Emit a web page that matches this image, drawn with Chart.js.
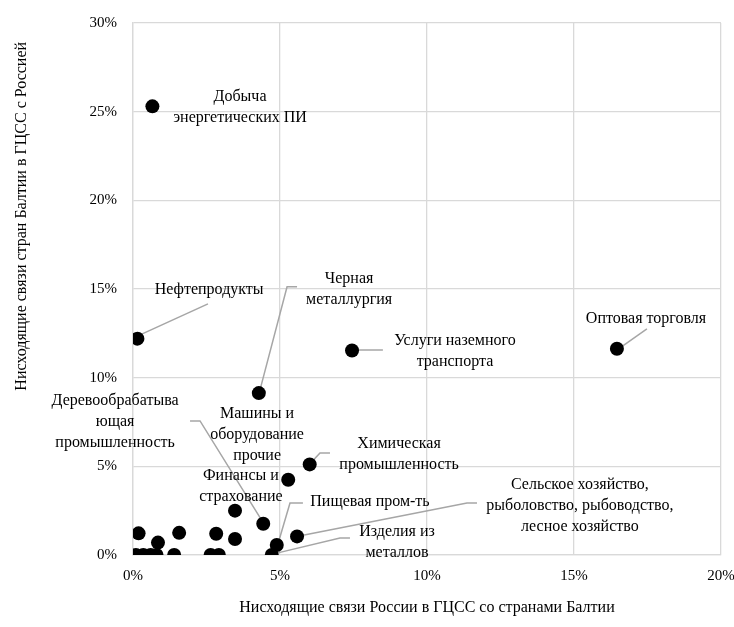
<!DOCTYPE html>
<html lang="ru">
<head>
<meta charset="utf-8">
<title>ГЦСС: Россия и страны Балтии</title>
<script src="https://cdn.jsdelivr.net/npm/chart.js@4.4.1/dist/chart.umd.min.js"></script>
<style>
    html, body { margin: 0; padding: 0; background: #fff; }
    #wrap { width: 734px; height: 627px; }
</style>
</head>
<body>
<div id="wrap"><canvas id="myChart" width="734" height="627"></canvas></div>
<script>
// Values, in percent
const xValues = [0.66, 0.15, 4.28, 7.45, 16.46, 6.01, 5.28, 4.43, 3.47, 4.89, 4.72, 5.58,
    0.19, 1.57, 2.83, 3.47, 0.85, 0.10, 0.35, 0.60, 0.80, 1.40, 2.64, 2.92];
const yValues = [25.3, 12.2, 9.13, 11.53, 11.63, 5.11, 4.24, 1.76, 2.50, 0.56, 0.00, 1.05,
    1.22, 1.25, 1.20, 0.90, 0.70, 0.00, 0.00, 0.00, 0.00, 0.00, 0.00, 0.00];
const xTicks = [0, 5, 10, 15, 20];
const yTicks = [0, 5, 10, 15, 20, 25, 30];

const xTitle = 'Нисходящие связи России в ГЦСС со странами Балтии';
const yTitle = 'Нисходящие связи стран Балтии в ГЦСС с Россией';

// Callout texts; positions are given in axis units (percent)
const callouts = [
    { lines: ['Добыча', 'энергетических ПИ'], at: [3.64, 25.24] },
    { lines: ['Нефтепродукты'], at: [2.59, 14.95], leader: [[2.55, 14.16], [0.24, 12.41]] },
    { lines: ['Черная', 'металлургия'], at: [7.35, 15.0], leader: [[5.58, 15.12], [5.24, 15.12], [4.32, 9.31]] },
    { lines: ['Услуги наземного', 'транспорта'], at: [10.95, 11.48], leader: [[8.5, 11.56], [7.62, 11.56]] },
    { lines: ['Оптовая торговля'], at: [17.45, 13.34], leader: [[17.48, 12.75], [16.6, 11.72]] },
    { lines: ['Деревообрабатыва', 'ющая', 'промышленность'], at: [-0.61, 7.5], leader: [[1.94, 7.56], [2.28, 7.56], [4.39, 1.92]] },
    { lines: ['Машины и', 'оборудование', 'прочие'], at: [4.22, 6.77] },
    { lines: ['Финансы и', 'страхование'], at: [3.67, 3.86] },
    { lines: ['Химическая', 'промышленность'], at: [9.05, 5.67], leader: [[6.7, 5.75], [6.36, 5.75], [6.05, 5.2]] },
    { lines: ['Пищевая пром-ть'], at: [8.06, 2.99], leader: [[5.78, 2.93], [5.34, 2.93], [4.97, 0.85]] },
    { lines: ['Сельское хозяйство,', 'рыболовство, рыбоводство,', 'лесное хозяйство'], at: [15.2, 2.76], leader: [[11.7, 2.93], [11.36, 2.93], [5.65, 1.07]] },
    { lines: ['Изделия из', 'металлов'], at: [8.98, 0.7], leader: [[7.38, 0.96], [7.04, 0.96], [4.75, 0.05]] }
];

const points = xValues.map((x, i) => ({ x: x, y: yValues[i] }));

const serif = '"Liberation Serif", "Times New Roman", serif';
const gridColor = '#d9d9d9';

// Draws leader lines, callout texts and both axis titles
const calloutPlugin = {
    id: 'callouts',
    beforeDatasetsDraw(chart) {
        const ctx = chart.ctx;
        const sx = chart.scales.x, sy = chart.scales.y;
        ctx.save();
        ctx.strokeStyle = '#a6a6a6';
        ctx.lineWidth = 1.5;
        callouts.forEach(c => {
            if (!c.leader) return;
            ctx.beginPath();
            c.leader.forEach((p, i) => {
                const px = sx.getPixelForValue(p[0]);
                const py = sy.getPixelForValue(p[1]);
                if (i === 0) ctx.moveTo(px, py); else ctx.lineTo(px, py);
            });
            ctx.stroke();
        });
        ctx.restore();
    },
    afterDraw(chart) {
        const ctx = chart.ctx;
        const sx = chart.scales.x, sy = chart.scales.y;
        const area = chart.chartArea;
        const lineH = 21;
        ctx.save();
        ctx.fillStyle = '#000';
        ctx.font = '16px ' + serif;
        ctx.textAlign = 'center';
        ctx.textBaseline = 'middle';
        callouts.forEach(c => {
            const cx = sx.getPixelForValue(c.at[0]);
            const cy = sy.getPixelForValue(c.at[1]);
            const top = cy - (c.lines.length - 1) * lineH / 2;
            c.lines.forEach((t, i) => ctx.fillText(t, cx, top + i * lineH));
        });

        // x axis title
        ctx.fillText(xTitle, (area.left + area.right) / 2, area.bottom + 53);

        // y axis title, sits higher than the middle of the plot
        ctx.translate(22, sy.getPixelForValue(19.1));
        ctx.rotate(-Math.PI / 2);
        ctx.fillText(yTitle, 0, 0);
        ctx.restore();
    }
};

const ctx = document.getElementById('myChart').getContext('2d');
new Chart(ctx, {
    type: 'scatter',
    data: {
        datasets: [{
            label: 'Отрасли',
            data: points,
            backgroundColor: '#000',
            borderColor: '#000',
            borderWidth: 0,
            pointRadius: 7,
            pointHoverRadius: 7
        }]
    },
    options: {
        responsive: false,
        animation: false,
        layout: { padding: { top: 23, right: 13, left: 0, bottom: 0 } },
        scales: {
            x: {
                type: 'linear',
                min: xTicks[0],
                max: xTicks[xTicks.length - 1],
                afterBuildTicks: s => { s.ticks = xTicks.map(v => ({ value: v })); },
                afterFit: s => { s.height = 72; s.paddingLeft = 0; s.paddingRight = 0; },
                grid: { color: gridColor, lineWidth: 1.3, drawTicks: false },
                border: { color: gridColor, width: 1.3 },
                ticks: {
                    padding: 12,
                    color: '#000',
                    font: { family: serif, size: 15 },
                    callback: v => v + '%'
                }
            },
            y: {
                type: 'linear',
                min: yTicks[0],
                max: yTicks[yTicks.length - 1],
                afterBuildTicks: s => { s.ticks = yTicks.map(v => ({ value: v })); },
                afterFit: s => { s.width = 133; s.paddingTop = 0; s.paddingBottom = 0; },
                grid: { color: gridColor, lineWidth: 1.3, drawTicks: false },
                border: { color: gridColor, width: 1.3 },
                ticks: {
                    padding: 16,
                    color: '#000',
                    font: { family: serif, size: 15 },
                    callback: v => v + '%'
                }
            }
        },
        plugins: {
            legend: { display: false },
            tooltip: { enabled: false }
        }
    },
    plugins: [calloutPlugin]
});
</script>
</body>
</html>
